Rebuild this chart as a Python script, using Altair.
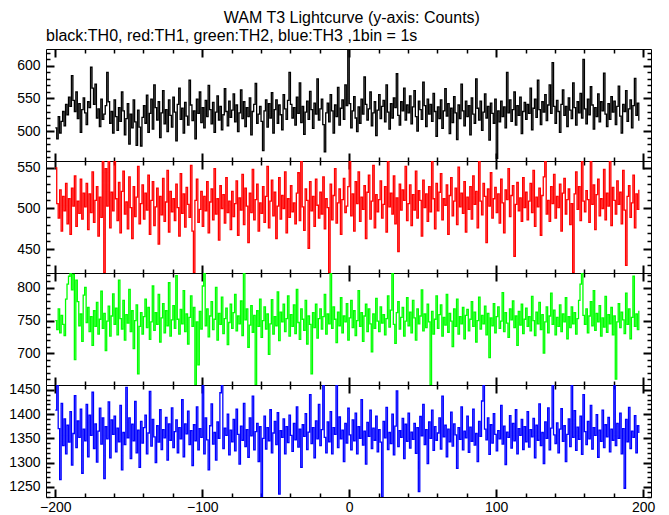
import altair as alt
import pandas as pd

TITLE = "WAM T3 Lightcurve (y-axis: Counts)"
SUBTITLE = "black:TH0, red:TH1, green:TH2, blue:TH3 ,1bin = 1s"

t_start = -200  # first 1 s bin

th0 = [
    505, 488, 522, 497, 515, 530, 508, 541, 525, 552, 538, 585, 547, 530, 560, 519, 542, 498, 533, 551,
    528, 510, 545, 536, 598, 566, 541, 572, 520, 534, 507, 549, 518, 526, 539, 590, 545, 512, 530, 497,
    548, 522, 501, 536, 515, 560, 531, 494, 519, 542, 480, 526, 505, 548, 514, 478, 532, 506, 477, 521,
    539, 512, 555, 498, 527, 549, 503, 571, 536, 517, 545, 490, 528, 562, 511, 533, 499, 548, 524, 506,
    552, 529, 485, 541, 566, 518, 535, 497, 544, 523, 509, 578, 540, 516, 531, 488, 549, 527, 560, 513,
    536, 505, 547, 522, 570, 533, 511, 544, 498, 529, 554, 517, 538, 502, 525, 565, 530, 508, 546, 521,
    532, 557, 514, 540, 499, 528, 563, 519, 545, 507, 536, 522, 551, 494, 530, 541, 573, 512, 526, 538,
    515, 470, 531, 548, 506, 542, 520, 559, 497, 533, 548, 512, 540, 525, 502, 556, 534, 518, 547, 590,
    541, 520, 536, 509, 552, 527, 574, 513, 538, 495, 529, 546, 518, 561, 533, 504, 543, 526, 580, 517,
    534, 549, 510, 468, 528, 543, 514, 556, 531, 497, 540, 522, 567, 509, 535, 548, 518, 571, 539, 626,
    542, 505, 531, 553, 520, 499, 537, 512, 549, 526, 583, 541, 517, 534, 560, 508, 528, 545, 493, 532,
    556, 519, 538, 547, 514, 571, 529, 503, 542, 520, 551, 536, 588, 524, 509, 545, 531, 566, 517, 540,
    528, 554, 511, 537, 562, 522, 500, 546, 533, 518, 575, 539, 507, 549, 526, 541, 515, 558, 530, 492,
    537, 519, 548, 504, 531, 565, 523, 542, 496, 535, 513, 553, 528, 487, 540, 519, 572, 531, 508, 546,
    522, 539, 494, 551, 526, 512, 580, 535, 517, 546, 501, 529, 557, 520, 538, 486, 543, 527, 512, 549,
    458, 531, 514, 546, 522, 537, 505, 590, 528, 548, 515, 533, 560, 509, 539, 524, 552, 496, 530, 544,
    518, 541, 527, 566, 502, 535, 549, 521, 578, 533, 510, 545, 529, 556, 516, 540, 571, 527, 605, 538,
    512, 547, 530, 498, 541, 563, 524, 538, 507, 551, 532, 519, 574, 536, 509, 545, 528, 558, 520, 610,
    534, 511, 549, 525, 568, 540, 503, 536, 522, 557, 514, 545, 531, 589, 526, 507, 542, 518, 553, 529,
    546, 510, 538, 569, 523, 497, 541, 530, 562, 515, 534, 548, 505, 539, 581, 524, 543, 516,
]

th1 = [
    550, 506, 488, 523, 472, 515, 497, 531, 481, 512, 468, 525, 503, 540, 478, 509, 494, 536, 487, 519,
    502, 531, 474, 518, 495, 545, 483, 510, 527, 466, 514, 489, 558, 421, 549, 503, 558, 476, 520, 497,
    558, 512, 485, 532, 470, 521, 546, 493, 508, 475, 539, 501, 463, 527, 490, 514, 552, 481, 506, 529,
    487, 519, 498, 541, 468, 510, 533, 479, 502, 525, 456, 515, 492, 537, 484, 508, 547, 471, 521, 496,
    512, 485, 530, 501, 466, 543, 494, 518, 477, 526, 505, 489, 553, 472, 421, 510, 536, 483, 499, 521,
    478, 515, 497, 533, 470, 508, 524, 486, 549, 493, 512, 461, 528, 500, 517, 482, 538, 495, 509, 474,
    521, 490, 506, 534, 467, 513, 498, 542, 480, 525, 503, 458, 519, 495, 548, 486, 511, 530, 472, 507,
    494, 527, 483, 515, 552, 476, 509, 535, 491, 520, 463, 503, 538, 487, 516, 500, 545, 470, 512, 489,
    528, 496, 507, 481, 519, 544, 485, 558, 502, 473, 524, 510, 451, 533, 497, 515, 478, 536, 504, 488,
    520, 493, 539, 475, 512, 501, 421, 530, 486, 516, 549, 482, 507, 524, 468, 511, 537, 495, 503, 527,
    558, 491, 518, 472, 533, 506, 545, 484, 514, 499, 528, 463, 520, 541, 487, 509, 553, 476, 517, 496,
    511, 534, 488, 505, 527, 471, 558, 502, 519, 493, 540, 481, 513, 447, 530, 498, 523, 510, 552, 485,
    506, 529, 479, 517, 498, 546, 488, 522, 510, 466, 535, 501, 518, 484, 527, 496, 558, 512, 475, 531,
    497, 520, 543, 486, 512, 504, 529, 468, 516, 538, 491, 509, 525, 480, 551, 502, 519, 494, 533, 471,
    514, 499, 527, 487, 540, 505, 521, 476, 558, 509, 492, 531, 515, 458, 524, 503, 544, 488, 512, 526,
    495, 518, 482, 536, 507, 470, 523, 511, 549, 490, 516, 528, 441, 505, 532, 497, 513, 484, 538, 501,
    520, 486, 509, 531, 495, 547, 478, 514, 502, 525, 467, 516, 539, 558, 493, 510, 484, 527, 506, 542,
    488, 515, 501, 530, 472, 519, 537, 493, 511, 524, 480, 506, 421, 518, 545, 499, 527, 485, 558, 509,
    496, 522, 511, 483, 558, 505, 529, 474, 517, 536, 491, 512, 500, 548, 486, 519, 503, 558, 479, 526,
    510, 493, 534, 505, 520, 481, 547, 498, 430, 515, 528, 489, 507, 541, 476, 518, 499, 523,
]

th2 = [
    750, 736, 768, 731, 758, 744, 727, 783, 806, 818, 823, 797, 821, 690, 812, 779, 742, 760, 718, 789,
    801, 747, 770, 733, 756, 712, 765, 741, 778, 729, 752, 795, 738, 761, 704, 749, 772, 726, 757, 791,
    744, 769, 728, 812, 753, 737, 781, 720, 759, 746, 798, 733, 765, 707, 750, 774, 668, 741, 762, 729,
    756, 783, 739, 770, 721, 748, 803, 735, 762, 744, 790, 717, 754, 776, 731, 765, 742, 808, 726, 751,
    773, 738, 819, 752, 729, 767, 745, 796, 733, 760, 714, 755, 788, 741, 770, 651, 748, 682, 764, 737,
    803, 823, 742, 768, 725, 757, 779, 736, 752, 801, 720, 761, 744, 786, 730, 753, 769, 713, 747, 775,
    738, 762, 790, 734, 757, 745, 780, 727, 823, 751, 768, 709, 743, 773, 732, 758, 651, 765, 741, 783,
    724, 750, 771, 737, 760, 698, 745, 782, 729, 756, 742, 794, 719, 763, 748, 775, 733, 753, 788, 726,
    759, 741, 774, 730, 798, 747, 721, 768, 752, 735, 781, 714, 757, 744, 668, 762, 739, 775, 723, 753,
    768, 737, 756, 790, 729, 760, 745, 823, 738, 771, 752, 716, 763, 742, 785, 731, 757, 748, 776, 720,
    754, 781, 739, 765, 727, 750, 796, 741, 762, 718, 757, 775, 733, 768, 745, 702, 760, 738, 784, 749,
    733, 771, 746, 759, 728, 753, 788, 740, 766, 823, 744, 715, 762, 779, 737, 755, 770, 726, 749, 785,
    742, 763, 731, 781, 754, 720, 768, 745, 757, 797, 734, 760, 739, 775, 748, 651, 764, 729, 752, 788,
    738, 759, 774, 726, 755, 743, 790, 732, 761, 749, 710, 768, 741, 783, 729, 756, 745, 770, 722, 758,
    767, 734, 752, 779, 741, 763, 717, 750, 786, 737, 758, 745, 772, 728, 761, 693, 754, 742, 776, 731,
    756, 771, 738, 749, 793, 733, 762, 746, 724, 768, 751, 780, 739, 757, 712, 764, 743, 775, 730, 752,
    769, 741, 756, 734, 787, 750, 727, 763, 745, 778, 736, 759, 700, 748, 771, 731, 757, 792, 744, 766,
    728, 755, 741, 774, 733, 760, 748, 785, 722, 756, 739, 771, 745, 762, 729, 753, 781, 806, 823, 758,
    744, 768, 731, 757, 779, 742, 796, 735, 761, 748, 773, 726, 754, 740, 787, 732, 759, 745, 770, 728,
    757, 660, 748, 776, 739, 763, 751, 730, 792, 744, 768, 722, 755, 818, 741, 760, 736, 765,
]

th3 = [
    1408, 1460, 1370, 1265, 1422, 1335, 1390, 1318, 1377, 1342, 1405, 1295, 1360, 1438, 1331, 1386, 1352, 1410, 1278, 1369,
    1345, 1420, 1312, 1398, 1356, 1445, 1329, 1380, 1301, 1365, 1412, 1338, 1392, 1267, 1374, 1349, 1425, 1310, 1388, 1358,
    1396, 1322, 1371, 1343, 1418, 1285, 1362, 1337, 1455, 1351, 1392, 1308, 1379, 1345, 1426, 1320, 1367, 1290, 1385, 1340,
    1372, 1398, 1318, 1361, 1447, 1334, 1389, 1353, 1300, 1376, 1342, 1409, 1327, 1368, 1351, 1393, 1305, 1380, 1346, 1413,
    1331, 1364, 1388, 1320, 1372, 1349, 1430, 1312, 1380, 1359, 1406, 1337, 1366, 1294, 1378, 1345, 1415, 1326, 1370, 1352,
    1460, 1318, 1392, 1347, 1285, 1376, 1421, 1338, 1362, 1305, 1384, 1350, 1444, 1460, 1329, 1371, 1356, 1400, 1316, 1367,
    1343, 1389, 1324, 1410, 1358, 1297, 1375, 1346, 1422, 1333, 1368, 1311, 1392, 1355, 1437, 1326, 1364, 1381, 1302, 1374,
    1229, 1350, 1396, 1328, 1372, 1345, 1409, 1320, 1361, 1385, 1337, 1403, 1235, 1366, 1352, 1390, 1318, 1374, 1341, 1398,
    1356, 1323, 1381, 1347, 1415, 1332, 1369, 1290, 1378, 1354, 1401, 1327, 1363, 1440, 1339, 1372, 1310, 1386, 1349, 1420,
    1335, 1368, 1460, 1352, 1320, 1384, 1343, 1405, 1318, 1372, 1358, 1460, 1331, 1394, 1349, 1367, 1302, 1381, 1340, 1412,
    1357, 1326, 1388, 1345, 1402, 1318, 1374, 1350, 1430, 1336, 1365, 1297, 1383, 1354, 1408, 1329, 1371, 1346, 1396, 1322,
    1368, 1342, 1229, 1385, 1351, 1414, 1327, 1362, 1339, 1400, 1316, 1375, 1448, 1333, 1366, 1352, 1391, 1308, 1379, 1344,
    1402, 1330, 1363, 1348, 1381, 1319, 1372, 1240, 1395, 1355, 1420, 1337, 1368, 1298, 1384, 1350, 1408, 1325, 1374, 1346,
    1361, 1392, 1328, 1437, 1353, 1377, 1312, 1369, 1343, 1404, 1334, 1380, 1357, 1288, 1372, 1348, 1415, 1326, 1365, 1351,
    1396, 1321, 1373, 1344, 1410, 1336, 1360, 1302, 1385, 1354, 1427, 1460, 1369, 1347, 1392, 1317, 1378, 1340, 1401, 1358,
    1324, 1366, 1349, 1418, 1338, 1375, 1296, 1363, 1352, 1397, 1330, 1381, 1345, 1409, 1318, 1370, 1356, 1389, 1327, 1374,
    1343, 1405, 1332, 1368, 1353, 1391, 1310, 1377, 1346, 1421, 1335, 1362, 1298, 1384, 1350, 1413, 1326, 1371, 1460, 1357,
    1339, 1382, 1320, 1369, 1411, 1344, 1376, 1302, 1358, 1390, 1333, 1460, 1352, 1407, 1325, 1373, 1348, 1396, 1317, 1440,
    1364, 1337, 1385, 1349, 1418, 1328, 1372, 1356, 1399, 1311, 1367, 1344, 1408, 1331, 1378, 1353, 1393, 1322, 1369, 1346,
    1460, 1335, 1381, 1350, 1402, 1318, 1370, 1247, 1389, 1343, 1414, 1329, 1365, 1352, 1397, 1320, 1376, 1361,
]

colors = ["#000000", "#ff0000", "#00ff00", "#0000ff"]
y_domains = [[454, 626], [420.5, 558.5], [651, 823], [1229, 1460]]
y_major_ticks = [[500, 550, 600], [450, 500, 550], [700, 750, 800], [1250, 1300, 1350, 1400, 1450]]
x_domain = [-206.3, 205.3]
x_major = [-200, -100, 0, 100, 200]
x_minor = [v for v in range(-200, 201, 20) if v % 100 != 0]

PANEL_W = 605
PANEL_H = 112
FONT = "Liberation Sans"


def ax(orient, values, size, width, labels, pad=8):
    return alt.Axis(
        orient=orient, values=values, tickSize=size, offset=-size, tickWidth=width,
        tickColor="black", tickOpacity=1, ticks=True, domain=False, grid=False,
        labels=labels, title=None, format="d",
        labelFlush=False, labelOverlap=False, labelPadding=pad,
        labelFont=FONT, labelFontSize=14, labelColor="black",
    )


def make_panel(values, color, ydom, ymaj, show_x_labels, title=None):
    df = pd.DataFrame({"time": [t_start + i for i in range(len(values))], "counts": values})
    lo = int(ydom[0]) // 10 * 10
    ymin = [v for v in range(lo, int(ydom[1]) + 10, 10) if ydom[0] < v < ydom[1] and v not in ymaj]
    xs = alt.Scale(domain=x_domain, nice=False, zero=False)
    ys = alt.Scale(domain=ydom, nice=False, zero=False)
    base = alt.Chart(df)
    line = base.mark_line(interpolate="step-after", color=color, strokeWidth=1.3, clip=True).encode(
        x=alt.X("time:Q", scale=xs, axis=ax("bottom", x_major, 8, 2, show_x_labels, 3)),
        y=alt.Y("counts:Q", scale=ys, axis=ax("left", ymaj, 8, 2, True, 6)),
    )
    g1 = base.mark_line(opacity=0, clip=True).encode(
        x=alt.X("time:Q", scale=xs, axis=ax("bottom", x_minor, 4, 1.5, False)),
        y=alt.Y("counts:Q", scale=ys, axis=ax("left", ymin, 4, 1.5, False)),
    )
    g2 = base.mark_line(opacity=0, clip=True).encode(
        x=alt.X("time:Q", scale=xs, axis=ax("top", x_major, 8, 2, False)),
        y=alt.Y("counts:Q", scale=ys, axis=ax("right", ymaj, 8, 2, False)),
    )
    g3 = base.mark_line(opacity=0, clip=True).encode(
        x=alt.X("time:Q", scale=xs, axis=ax("top", x_minor, 4, 1.5, False)),
        y=alt.Y("counts:Q", scale=ys, axis=ax("right", ymin, 4, 1.5, False)),
    )
    props = dict(width=PANEL_W, height=PANEL_H)
    if title is not None:
        props["title"] = title
    return (
        alt.layer(line, g1, g2, g3)
        .resolve_axis(x="independent", y="independent")
        .properties(**props)
    )


series = [th0, th1, th2, th3]
sub = alt.TitleParams(SUBTITLE, anchor="start", frame="group", font=FONT, fontSize=16,
                      fontWeight="normal", color="black", offset=4)
panels = []
for i, vals in enumerate(series):
    panels.append(make_panel(vals, colors[i], y_domains[i], y_major_ticks[i], i == 3,
                             sub if i == 0 else None))

chart = (
    alt.vconcat(*panels, spacing=0, bounds="flush")
    .properties(
        title=alt.TitleParams(TITLE, anchor="middle", font=FONT, fontSize=16, fontWeight="normal",
                              color="black", dx=20, offset=2),
        padding={"left": 0, "top": 1, "right": 5, "bottom": 0},
        background="white",
    )
    .configure_view(stroke="black", strokeWidth=1, fill="white")
)

chart.save("out.html", embed_options={"renderer": "svg", "actions": False})
